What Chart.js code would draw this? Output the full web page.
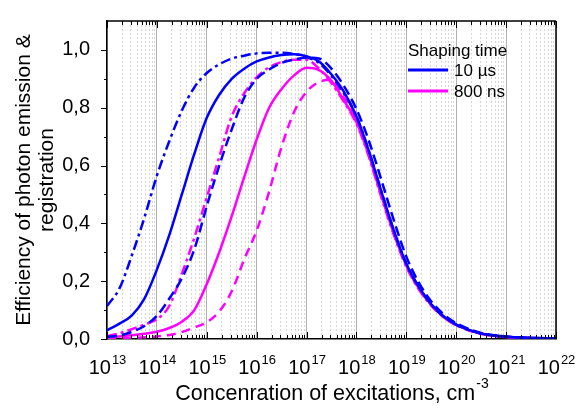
<!DOCTYPE html>
<html>
<head>
<meta charset="utf-8">
<script src="https://cdn.jsdelivr.net/npm/chart.js@4.4.0/dist/chart.umd.min.js"></script>
<style>
html, body { margin: 0; padding: 0; background: #fff; }
</style>
</head>
<body>
<canvas id="eff_chart" width="582" height="410"></canvas>
<script>
// log10 of the concentration at each sample point
const exponents = [13, 13.25, 13.5, 13.75, 14, 14.25, 14.5, 14.75, 15, 15.25, 15.5, 15.75,
    16, 16.25, 16.5, 16.75, 17, 17.25, 17.5, 17.75, 18, 18.25, 18.5, 18.75,
    19, 19.25, 19.5, 19.75, 20, 20.5, 21, 21.5, 22];

// 10 us shaping time
const blue_solid = [0.030, 0.053, 0.082, 0.14, 0.24, 0.36, 0.50, 0.64, 0.765, 0.845, 0.90, 0.935,
    0.96, 0.974, 0.982, 0.985, 0.978, 0.96, 0.915, 0.855, 0.77, 0.65, 0.51, 0.375,
    0.26, 0.18, 0.12, 0.078, 0.05, 0.019, 0.008, 0.004, 0.002];
const blue_dashdot = [0.114, 0.175, 0.29, 0.42, 0.565, 0.685, 0.79, 0.87, 0.92, 0.95, 0.97, 0.98,
    0.988, 0.99, 0.99, 0.986, 0.975, 0.955, 0.91, 0.85, 0.77, 0.65, 0.51, 0.375,
    0.26, 0.18, 0.12, 0.078, 0.05, 0.019, 0.008, 0.004, 0.002];
const blue_dash = [0.008, 0.012, 0.025, 0.045, 0.08, 0.14, 0.21, 0.31, 0.46, 0.60, 0.725, 0.835,
    0.90, 0.932, 0.955, 0.967, 0.973, 0.97, 0.935, 0.875, 0.795, 0.685, 0.55, 0.41,
    0.285, 0.195, 0.13, 0.085, 0.055, 0.021, 0.009, 0.004, 0.002];

// 800 ns shaping time
const magenta_solid = [0.006, 0.009, 0.013, 0.018, 0.025, 0.038, 0.06, 0.10, 0.19, 0.30, 0.425, 0.56,
    0.69, 0.80, 0.865, 0.912, 0.938, 0.93, 0.893, 0.825, 0.75, 0.635, 0.495, 0.365,
    0.255, 0.175, 0.118, 0.076, 0.049, 0.018, 0.007, 0.003, 0.001];
const magenta_dashdot = [0.01, 0.02, 0.034, 0.05, 0.068, 0.115, 0.225, 0.35, 0.49, 0.63, 0.77, 0.85,
    0.905, 0.94, 0.958, 0.966, 0.966, 0.935, 0.885, 0.82, 0.745, 0.63, 0.49, 0.36,
    0.25, 0.172, 0.115, 0.075, 0.048, 0.018, 0.007, 0.003, 0.001];
const magenta_dash = [0.003, 0.003, 0.004, 0.006, 0.009, 0.014, 0.024, 0.04, 0.058, 0.095, 0.165, 0.275,
    0.375, 0.51, 0.665, 0.785, 0.855, 0.889, 0.897, 0.835, 0.755, 0.64, 0.50, 0.368,
    0.255, 0.175, 0.118, 0.076, 0.049, 0.018, 0.007, 0.003, 0.001];

const x_powers = [13, 14, 15, 16, 17, 18, 19, 20, 21, 22];
const y_labels = [0, 0.2, 0.4, 0.6, 0.8, 1.0];
const x_title = 'Concenration of excitations, cm';
const x_title_sup = '-3';
const y_title = ['Efficiency of photon emission &', 'registration'];
const legend_title = 'Shaping time';
const legend_labels = ['10 \u00b5s', '800 ns'];

const FONT = "'Liberation Sans', Arial, sans-serif";
const BLUE = '#0000ff';
const MAGENTA = '#ff00ff';

function points(values)
{
    return exponents.map((e, i) => ({x: Math.pow(10, e), y: values[i]}));
}

function curve(values, color, dash)
{
    return {
        data: points(values),
        borderColor: color,
        backgroundColor: color,
        borderWidth: 2.5,
        borderDash: dash,
        pointRadius: 0,
        cubicInterpolationMode: 'monotone',
        fill: false
    };
}

// ticks on inside of the frame, superscript labels, legend
const decor = {
    id: 'decor',
    afterDraw(chart) {
        const ctx = chart.ctx;
        const a = chart.chartArea;
        const xs = chart.scales.x;
        const ys = chart.scales.y;
        ctx.save();
        ctx.strokeStyle = '#000';
        ctx.lineWidth = 1.5;
        ctx.beginPath();
        ctx.moveTo(a.left, a.top);
        ctx.lineTo(a.right, a.top);
        ctx.moveTo(a.right, a.top);
        ctx.lineTo(a.right, a.bottom);
        ctx.stroke();

        ctx.lineWidth = 1;
        ctx.beginPath();
        xs.ticks.forEach(t => {
            const px = Math.round(xs.getPixelForValue(t.value)) + 0.5;
            const len = t.major ? 7 : 4;
            ctx.moveTo(px, a.bottom);
            ctx.lineTo(px, a.bottom - len);
            ctx.moveTo(px, a.top);
            ctx.lineTo(px, a.top + len);
        });
        for (let i = 0; i <= 10; i++) {
            const py = Math.round(ys.getPixelForValue(i / 10)) + 0.5;
            const len = i % 2 === 0 ? 6 : 3;
            ctx.moveTo(a.left, py);
            ctx.lineTo(a.left - len, py);
        }
        ctx.stroke();

        // x tick labels: 10 with exponent
        ctx.fillStyle = '#000';
        ctx.textBaseline = 'alphabetic';
        ctx.textAlign = 'left';
        x_powers.forEach(p => {
            const px = xs.getPixelForValue(Math.pow(10, p));
            ctx.font = '20px ' + FONT;
            const w1 = ctx.measureText('10').width;
            ctx.font = '13px ' + FONT;
            const w2 = ctx.measureText(String(p)).width;
            const x0 = px - (w1 + w2) / 2;
            ctx.font = '20px ' + FONT;
            ctx.fillText('10', x0, 374);
            ctx.font = '13px ' + FONT;
            ctx.fillText(String(p), x0 + w1 + 1, 364);
        });

        // x axis title
        ctx.font = '21.5px ' + FONT;
        const tw = ctx.measureText(x_title).width;
        ctx.font = '14px ' + FONT;
        const sw = ctx.measureText(x_title_sup).width;
        const tx = (a.left + a.right) / 2 - (tw + sw) / 2;
        ctx.font = '21.5px ' + FONT;
        ctx.fillText(x_title, tx, 400);
        ctx.font = '14px ' + FONT;
        ctx.fillText(x_title_sup, tx + tw + 1, 388);

        // legend
        ctx.font = '17px ' + FONT;
        ctx.fillText(legend_title, 408, 56);
        [BLUE, MAGENTA].forEach((c, i) => {
            const ly = 70 + i * 21;
            ctx.strokeStyle = c;
            ctx.lineWidth = 3;
            ctx.beginPath();
            ctx.moveTo(408, ly);
            ctx.lineTo(448, ly);
            ctx.stroke();
            ctx.fillText(legend_labels[i], 454, ly + 6);
        });
        ctx.restore();
    }
};

const ctx = document.getElementById('eff_chart').getContext('2d');
let myChart = new Chart(ctx, {
    type: 'line',
    data: {
        datasets: [
            curve(blue_solid, BLUE, []),
            curve(blue_dashdot, BLUE, [10, 4, 3, 4]),
            curve(blue_dash, BLUE, [10, 5]),
            curve(magenta_solid, MAGENTA, []),
            curve(magenta_dashdot, MAGENTA, [10, 4, 3, 4]),
            curve(magenta_dash, MAGENTA, [9, 6])
        ]
    },
    plugins: [decor],
    options: {
        responsive: false,
        animation: false,
        devicePixelRatio: 1,
        layout: {padding: {top: 10, right: 26, left: 0, bottom: 0}},
        plugins: {
            legend: {display: false},
            tooltip: {enabled: false}
        },
        scales: {
            x: {
                type: 'logarithmic',
                min: 1e13,
                max: 1e22,
                afterBuildTicks: (scale) => {
                    const t = [];
                    for (let n = 13; n < 22; n++) {
                        for (let m = 1; m <= 9; m++) {
                            t.push({value: m * Math.pow(10, n), major: m === 1});
                        }
                    }
                    t.push({value: 1e22, major: true});
                    scale.ticks = t;
                },
                afterFit: (scale) => { scale.height = 71; },
                ticks: {display: false},
                grid: {
                    drawTicks: false,
                    color: (c) => c.tick && c.tick.major ? '#b0b0b0' : '#d6d6d6',
                    lineWidth: 1
                },
                border: {
                    display: true,
                    color: '#000',
                    width: 1.5,
                    dash: (c) => c.tick && c.tick.major ? [] : [2, 2]
                }
            },
            y: {
                min: 0,
                max: 1.1,
                afterBuildTicks: (scale) => {
                    scale.ticks = y_labels.map(v => ({value: v}));
                },
                afterFit: (scale) => { scale.width = 107; },
                ticks: {
                    color: '#000',
                    padding: 9,
                    font: {family: FONT, size: 20},
                    callback: (v) => Number(v).toFixed(1).replace('.', ',')
                },
                grid: {display: false},
                border: {display: true, color: '#000', width: 1.5},
                title: {
                    display: true,
                    text: y_title,
                    color: '#000',
                    font: {family: FONT, size: 21, lineHeight: 1.1},
                    padding: {top: 12.5, bottom: 0}
                }
            }
        }
    }
});
</script>
</body>
</html>
